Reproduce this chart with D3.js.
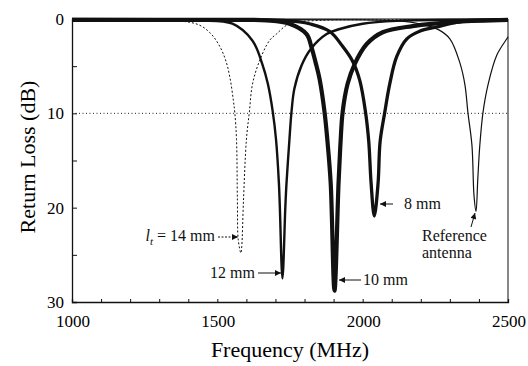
<!DOCTYPE html>
<html>
<head>
<meta charset="utf-8">
<script src="https://cdn.jsdelivr.net/npm/d3@7"></script>
<style>
  body { margin: 0; background: #fff; }
  svg { font-family: "Liberation Serif", "Times New Roman", serif; }
</style>
</head>
<body>
<svg width="528" height="366"></svg>
<script>
// axis tick labels
var freqTicks = [1000, 1500, 2000, 2500];
var lossTicks = [0, 10, 20, 30];

// return loss curves, [MHz, dB]
var lt14 = [[1000,0.05],[1250,0.08],[1369,0.2],[1438,0.64],[1479,1.6],[1510,3.0],[1531,4.6],[1545,6.5],
  [1555,8.6],[1560,9.9],[1566,12.8],[1569,19.2],[1572,23.4],[1581,24.8],[1584,24.1],[1590,19.2],
  [1600,12.8],[1610,9.9],[1621,6.9],[1645,4.45],[1679,2.3],[1703,1.6],[1748,0.5],[1852,0.15],
  [2100,0.08],[2500,0.05]];

var lt12 = [[1000,0.05],[1300,0.08],[1438,0.15],[1552,0.5],[1621,2.3],[1655,4.8],[1674,6.9],[1691,9.9],
  [1702,12.8],[1712,17.5],[1715,19.9],[1724,27.5],[1734,19.9],[1738,17.4],[1748,12.8],[1755,9.9],
  [1765,7.4],[1790,4.9],[1821,3.2],[1876,1.6],[1921,1.06],[2000,0.5],[2117,0.2],[2500,0.05]];

var lt10 = [[1000,0.1],[1500,0.1],[1669,0.15],[1748,0.5],[1807,1.6],[1824,3.0],[1838,4.6],[1852,6.4],
  [1869,9.9],[1879,13.0],[1890,17.4],[1903,28.8],[1917,17.4],[1924,13.0],[1931,9.9],[1948,6.9],
  [1972,4.8],[2014,2.65],[2069,1.4],[2172,0.75],[2324,0.3],[2500,0.1]];

var lt8 = [[1000,0.05],[1600,0.08],[1700,0.12],[1783,0.3],[1817,0.5],[1886,1.3],[1931,2.9],[1965,4.45],
  [1990,6.5],[2010,9.9],[2021,13.0],[2029,17.4],[2040,20.9],[2053,17.4],[2060,13.0],[2076,9.9],
  [2093,6.9],[2117,4.0],[2152,2.1],[2196,1.3],[2255,0.85],[2334,0.3],[2500,0.1]];

var refAnt = [[1000,0.05],[2000,0.1],[2128,0.2],[2196,0.5],[2259,1.1],[2300,2.1],[2334,4.6],[2352,7.0],
  [2362,9.9],[2376,13.4],[2383,18.7],[2390,20.4],[2396,17.0],[2403,13.4],[2414,9.9],[2431,7.0],
  [2462,3.8],[2496,2.1],[2500,1.9]];

var svg = d3.select("svg");

var x = d3.scaleLinear().domain([1000, 2500]).range([72, 508]),
    y = d3.scaleLinear().domain([0, 30]).range([19, 302]);

var line = d3.line()
  .x(function (d) { return x(d[0]); })
  .y(function (d) { return y(d[1]); })
  .curve(d3.curveCatmullRom.alpha(0.5));

// arrow heads
var defs = svg.append("defs");
defs.append("marker")
  .attr("id", "head")
  .attr("viewBox", "0 0 10 10")
  .attr("refX", 10).attr("refY", 5)
  .attr("markerWidth", 7).attr("markerHeight", 6)
  .attr("markerUnits", "userSpaceOnUse")
  .attr("orient", "auto")
  .append("path").attr("d", "M0,0L10,5L0,10Z").attr("fill", "#111");

// 10 dB reference line
svg.append("line")
  .attr("x1", x(1000)).attr("x2", x(2500))
  .attr("y1", y(10)).attr("y2", y(10))
  .attr("stroke", "#222").attr("stroke-width", 1)
  .attr("stroke-dasharray", "1,2.5");

// curves
var series = [
  { data: refAnt, width: 1.2, dash: null },
  { data: lt14, width: 1, dash: "2,2" },
  { data: lt12, width: 2.4, dash: null },
  { data: lt8, width: 3.3, dash: null },
  { data: lt10, width: 4.2, dash: null }
];

svg.append("g").selectAll("path")
  .data(series)
  .enter().append("path")
  .attr("d", function (d) { return line(d.data); })
  .attr("fill", "none")
  .attr("stroke", "#111")
  .attr("stroke-width", function (d) { return d.width; })
  .attr("stroke-linejoin", "round")
  .attr("stroke-dasharray", function (d) { return d.dash; });

// axes: ticks point inward
var gx = svg.append("g")
  .attr("transform", "translate(0," + y(30) + ")")
  .call(d3.axisBottom(x).tickValues(d3.range(1000, 2501, 100)).tickSize(-3).tickFormat(""));
var gy = svg.append("g")
  .attr("transform", "translate(" + x(1000) + ",0)")
  .call(d3.axisLeft(y).tickValues(d3.range(0, 31, 5)).tickSize(-5).tickFormat(""));
[gx, gy].forEach(function (g) {
  g.select(".domain").attr("stroke", "#111").attr("stroke-width", 1.3);
  g.selectAll(".tick line").attr("stroke", "#111");
});

// frame top and right
svg.append("path")
  .attr("d", "M" + x(1000) + "," + y(0) + "H" + x(2500) + "V" + y(30))
  .attr("fill", "none").attr("stroke", "#111").attr("stroke-width", 1);

// tick labels
svg.append("g").selectAll("text")
  .data(freqTicks)
  .enter().append("text")
  .attr("x", function (d) { return x(d) + 1; })
  .attr("y", 327)
  .attr("text-anchor", "middle")
  .attr("font-size", 17)
  .text(function (d) { return d; });

svg.append("g").selectAll("text")
  .data(lossTicks)
  .enter().append("text")
  .attr("x", 64)
  .attr("y", function (d) { return y(d) + 6; })
  .attr("text-anchor", "end")
  .attr("font-size", 17)
  .text(function (d) { return d; });

// axis titles
svg.append("text")
  .attr("x", 290).attr("y", 357)
  .attr("text-anchor", "middle")
  .attr("font-size", 22)
  .text("Frequency (MHz)");

svg.append("text")
  .attr("transform", "translate(35,157) rotate(-90)")
  .attr("text-anchor", "middle")
  .attr("font-size", 22)
  .text("Return Loss (dB)");

// annotations
var notes = svg.append("g").attr("font-size", 16).attr("fill", "#111");

var t14 = notes.append("text").attr("x", 215).attr("y", 241).attr("text-anchor", "end");
t14.append("tspan").attr("font-style", "italic").text("l");
t14.append("tspan").attr("font-size", 11).attr("font-style", "italic").attr("dy", 4).text("t");
t14.append("tspan").attr("dy", -4).text(" = 14 mm");

notes.append("text").attr("x", 255).attr("y", 278).attr("text-anchor", "end").text("12 mm");
notes.append("text").attr("x", 363).attr("y", 285).text("10 mm");
notes.append("text").attr("x", 404).attr("y", 209).text("8 mm");
notes.append("text").attr("x", 422).attr("y", 241).text("Reference");
notes.append("text").attr("x", 422).attr("y", 258).text("antenna");

var arrows = [
  { x1: 218, y1: 237, x2: 238, y2: 237, dash: "2,1.5" },
  { x1: 258, y1: 273, x2: 281, y2: 273, dash: null },
  { x1: 361, y1: 280, x2: 339, y2: 280, dash: null },
  { x1: 393, y1: 204, x2: 380, y2: 204, dash: null },
  { x1: 471, y1: 227, x2: 475, y2: 213, dash: null }
];

notes.selectAll("line")
  .data(arrows)
  .enter().append("line")
  .attr("x1", function (d) { return d.x1; })
  .attr("y1", function (d) { return d.y1; })
  .attr("x2", function (d) { return d.x2; })
  .attr("y2", function (d) { return d.y2; })
  .attr("stroke", "#111").attr("stroke-width", 1)
  .attr("stroke-dasharray", function (d) { return d.dash; })
  .attr("marker-end", "url(#head)");
</script>
</body>
</html>
